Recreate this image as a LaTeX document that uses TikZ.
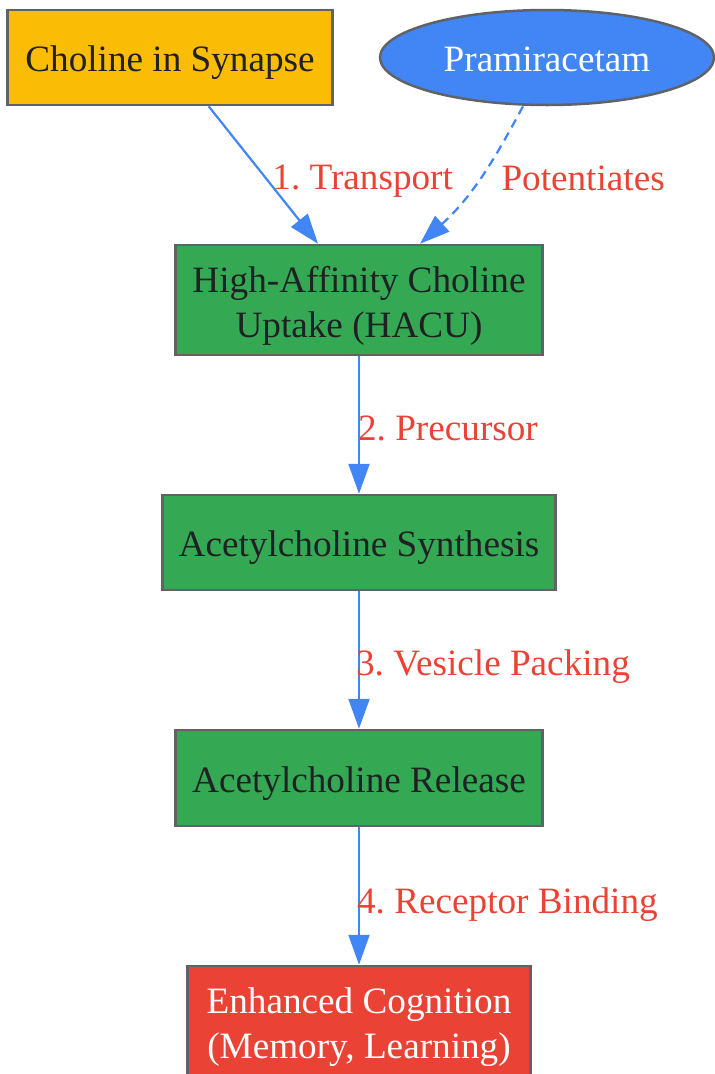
\documentclass[tikz,border=0pt]{standalone}
\usepackage{fontspec}
\setmainfont{Liberation Serif}
\usetikzlibrary{positioning,shapes.geometric,arrows.meta}
\definecolor{gyellow}{HTML}{FBBC05}
\definecolor{gblue}{HTML}{4285F4}
\definecolor{ggreen}{HTML}{34A853}
\definecolor{gred}{HTML}{EA4335}
\definecolor{gborder}{HTML}{5F6368}
\definecolor{gtext}{HTML}{202124}
\frenchspacing

\begin{document}
\begin{tikzpicture}[
		x=1pt, y=-1pt,
		node distance=137.5pt,
		font=\fontsize{37.2}{45}\selectfont,
		box/.style={draw=gborder, line width=2.5pt, fill=ggreen, text=gtext, inner sep=0pt, align=center, text height=36pt, text depth=8pt},
		twoline/.style={text height=82pt},
		flow/.style={draw=gblue, line width=2.2pt, -{Triangle[length=30pt,width=21pt]}},
		lbl/.style={text=gred, inner sep=0pt, anchor=west},
	]
		\useasboundingbox (0,0) rectangle (715,1074);
		\node [box, fill=gyellow, minimum width=325pt, minimum height=95pt] (chol) at (170,57.5) {Choline in Synapse};
		\node [box, ellipse, fill=gblue, text=white, minimum width=334pt, minimum height=95pt] (pram) at (547,57.5) {Pramiracetam};
		\node [box, twoline, minimum width=367pt, minimum height=110pt] (hacu) at (359,300) {High-Affinity Choline\\Uptake (HACU)};
		\node [box, minimum width=393pt, minimum height=95pt, below=of hacu] (synth) {Acetylcholine Synthesis};
		\node [box, minimum width=367pt, minimum height=96pt, below=of synth] (rel) {Acetylcholine Release};
		\node [box, twoline, fill=gred, text=white, minimum width=343pt, minimum height=110pt, below=of rel] (cog) {Enhanced Cognition\\(Memory, Learning)};

		\draw [flow] (chol) -- ([xshift=-41pt]hacu.north) node[lbl, pos=0.5, xshift=8pt, yshift=-6pt] {1. Transport};
		\draw [flow, dash pattern=on 9pt off 6pt] ([xshift=-24pt]pram.south) to[out=-118, in=42] node[lbl, pos=0.5, xshift=22pt, yshift=2pt] {Potentiates} ([xshift=61pt]hacu.north);
		\draw [flow] (hacu) -- (synth) node[lbl, midway, xshift=-2pt, yshift=-3pt] {2. Precursor};
		\draw [flow] (synth) -- (rel) node[lbl, midway, xshift=-4pt, yshift=-7pt] {3. Vesicle Packing};
		\draw [flow] (rel) -- (cog) node[lbl, midway, xshift=-3pt, yshift=-9pt] {4. Receptor Binding};
	\end{tikzpicture}
\end{document}
